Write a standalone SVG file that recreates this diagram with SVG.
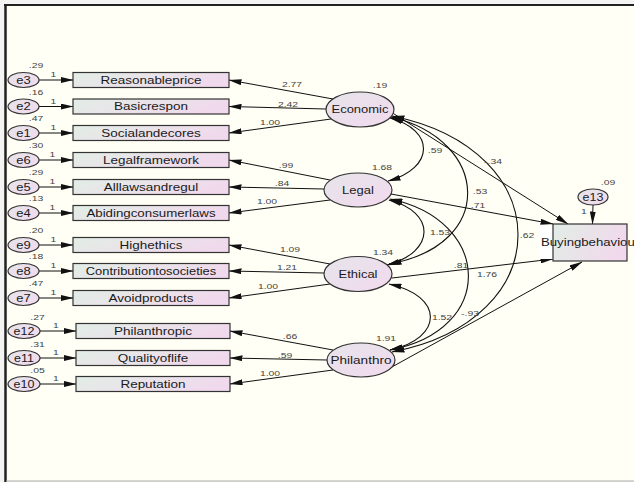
<svg xmlns="http://www.w3.org/2000/svg" width="634" height="482" viewBox="0 0 634 482">
<defs>
<linearGradient id="gBox" x1="0" y1="0" x2="1" y2="0.3">
<stop offset="0" stop-color="#E2EEE6"/>
<stop offset="1" stop-color="#F0D9EC"/>
</linearGradient>
<linearGradient id="gEll" x1="0" y1="0" x2="1" y2="1">
<stop offset="0" stop-color="#E6E4EA"/>
<stop offset="1" stop-color="#F2DAEE"/>
</linearGradient>
<marker id="ah" markerUnits="userSpaceOnUse" markerWidth="13" markerHeight="6" refX="12.5" refY="3" orient="auto-start-reverse">
<path d="M0,0 L13,3 L0,6 z" fill="#111"/>
</marker>
<style>
.box{fill:url(#gBox);stroke:#333;stroke-width:1.2}
.ell{fill:url(#gEll);stroke:#333;stroke-width:1.2}
.lbl{font-family:"Liberation Sans",Arial,sans-serif;font-size:10px;fill:#1a1a1a;text-anchor:middle}
.num{font-family:"Liberation Sans",Arial,sans-serif;font-size:8px;fill:#444;text-anchor:middle}
.ln{fill:none;stroke:#111;stroke-width:1;marker-end:url(#ah)}
.cv{fill:none;stroke:#111;stroke-width:1.1;marker-end:url(#ah);marker-start:url(#ah)}
</style>
</defs>
<rect x="0" y="0" width="634" height="482" fill="#F4F4F2"/>
<rect x="6" y="6" width="628" height="475" fill="#FFFFF5"/>
<line x1="4" y1="5" x2="634" y2="5" stroke="#222" stroke-width="2"/>
<line x1="5.5" y1="4" x2="5.5" y2="482" stroke="#222" stroke-width="2.5"/>
<line x1="6" y1="481" x2="634" y2="481" stroke="#AAA" stroke-width="1"/>

<g id="connectors">
<line class="ln" x1="39" y1="80" x2="73" y2="80"/>
<line class="ln" x1="39" y1="106.5" x2="73" y2="106.5"/>
<line class="ln" x1="39" y1="133" x2="73" y2="133"/>
<line class="ln" x1="39" y1="160" x2="73" y2="160"/>
<line class="ln" x1="39" y1="187" x2="73" y2="187"/>
<line class="ln" x1="39" y1="213" x2="73" y2="213"/>
<line class="ln" x1="39" y1="245" x2="73" y2="245"/>
<line class="ln" x1="39" y1="271" x2="73" y2="271"/>
<line class="ln" x1="39" y1="298" x2="73" y2="298"/>
<line class="ln" x1="40" y1="331" x2="76" y2="331"/>
<line class="ln" x1="40" y1="358" x2="76" y2="358"/>
<line class="ln" x1="40" y1="384" x2="76" y2="384"/>
<line class="ln" x1="593" y1="205" x2="592.5" y2="224"/>
<line class="ln" x1="333" y1="99" x2="229" y2="80"/>
<line class="ln" x1="326" y1="109" x2="229" y2="106.5"/>
<line class="ln" x1="331" y1="119" x2="229" y2="133"/>
<line class="ln" x1="330" y1="180" x2="229" y2="160"/>
<line class="ln" x1="324" y1="189" x2="229" y2="187"/>
<line class="ln" x1="330" y1="200" x2="229" y2="213"/>
<line class="ln" x1="330" y1="264" x2="229" y2="245"/>
<line class="ln" x1="324" y1="273" x2="229" y2="271"/>
<line class="ln" x1="330" y1="284" x2="229" y2="298"/>
<line class="ln" x1="333" y1="350" x2="230" y2="331"/>
<line class="ln" x1="327" y1="360" x2="230" y2="358"/>
<line class="ln" x1="333" y1="370" x2="230" y2="384"/>
<line class="ln" x1="391" y1="112" x2="568" y2="224"/>
<line class="ln" x1="391" y1="194" x2="553" y2="224"/>
<line class="ln" x1="392" y1="278" x2="553" y2="259"/>
<line class="ln" x1="390" y1="368" x2="582" y2="262"/>
<path class="cv" d="M390 118 C435 130 435 168 388 181"/>
<path class="cv" d="M389 200 C436 212 436 252 387 265"/>
<path class="cv" d="M389 284 C444 296 444 338 390 350"/>
<path class="cv" d="M391 117 C490 140 497 245 389 264"/>
<path class="cv" d="M390 199 C492 220 497 330 390 350"/>
<path class="cv" d="M392 116 C560 150 560 320 392 352"/>
</g>

<g id="labels-paths">
<text class="num" transform="translate(292 87) scale(1.3 1)">2.77</text>
<text class="num" transform="translate(288 107) scale(1.3 1)">2.42</text>
<text class="num" transform="translate(270 125) scale(1.3 1)">1.00</text>
<text class="num" transform="translate(286 168) scale(1.3 1)">.99</text>
<text class="num" transform="translate(282 186) scale(1.3 1)">.84</text>
<text class="num" transform="translate(267 204) scale(1.3 1)">1.00</text>
<text class="num" transform="translate(290 252) scale(1.3 1)">1.09</text>
<text class="num" transform="translate(287 270) scale(1.3 1)">1.21</text>
<text class="num" transform="translate(268 289) scale(1.3 1)">1.00</text>
<text class="num" transform="translate(290 339) scale(1.3 1)">.66</text>
<text class="num" transform="translate(285 358) scale(1.3 1)">.59</text>
<text class="num" transform="translate(270 376) scale(1.3 1)">1.00</text>
<text class="num" transform="translate(435 153) scale(1.3 1)">.59</text>
<text class="num" transform="translate(440 235) scale(1.3 1)">1.53</text>
<text class="num" transform="translate(442 320) scale(1.3 1)">1.52</text>
<text class="num" transform="translate(480 194) scale(1.3 1)">.53</text>
<text class="num" transform="translate(470 316) scale(1.3 1)">-.93</text>
<text class="num" transform="translate(527 238) scale(1.3 1)">.62</text>
<text class="num" transform="translate(493 164) scale(1.3 1)">-.34</text>
<text class="num" transform="translate(478 208) scale(1.3 1)">.71</text>
<text class="num" transform="translate(461 268) scale(1.3 1)">.81</text>
<text class="num" transform="translate(487 277) scale(1.3 1)">1.76</text>
</g>

<g id="e3"><ellipse class="ell" cx="23.5" cy="80" rx="15.5" ry="7.5"/><text class="lbl" transform="translate(23.5 83.5) scale(1.3 1)">e3</text><text class="num" transform="translate(36 68) scale(1.3 1)">.29</text><text class="num" transform="translate(53.5 77) scale(1.3 1)">1</text></g>
<g id="e2"><ellipse class="ell" cx="23.5" cy="106.5" rx="15.5" ry="7.5"/><text class="lbl" transform="translate(23.5 110) scale(1.3 1)">e2</text><text class="num" transform="translate(36 95) scale(1.3 1)">.16</text><text class="num" transform="translate(53.5 103.5) scale(1.3 1)">1</text></g>
<g id="e1"><ellipse class="ell" cx="23.5" cy="133" rx="15.5" ry="7.5"/><text class="lbl" transform="translate(23.5 136.5) scale(1.3 1)">e1</text><text class="num" transform="translate(36 121) scale(1.3 1)">.47</text><text class="num" transform="translate(53.5 130) scale(1.3 1)">1</text></g>
<g id="e6"><ellipse class="ell" cx="23.5" cy="160" rx="15.5" ry="7.5"/><text class="lbl" transform="translate(23.5 163.5) scale(1.3 1)">e6</text><text class="num" transform="translate(36 148) scale(1.3 1)">.30</text><text class="num" transform="translate(52.5 157) scale(1.3 1)">1</text></g>
<g id="e5"><ellipse class="ell" cx="23.5" cy="187" rx="15.5" ry="7.5"/><text class="lbl" transform="translate(23.5 190.5) scale(1.3 1)">e5</text><text class="num" transform="translate(36 175) scale(1.3 1)">.29</text><text class="num" transform="translate(52.5 184) scale(1.3 1)">1</text></g>
<g id="e4"><ellipse class="ell" cx="23.5" cy="213" rx="15.5" ry="7.5"/><text class="lbl" transform="translate(23.5 216.5) scale(1.3 1)">e4</text><text class="num" transform="translate(36 201) scale(1.3 1)">.13</text><text class="num" transform="translate(52.5 210) scale(1.3 1)">1</text></g>
<g id="e9"><ellipse class="ell" cx="23.5" cy="245" rx="15.5" ry="7.5"/><text class="lbl" transform="translate(23.5 248.5) scale(1.3 1)">e9</text><text class="num" transform="translate(36 233) scale(1.3 1)">.20</text><text class="num" transform="translate(53.5 242) scale(1.3 1)">1</text></g>
<g id="e8"><ellipse class="ell" cx="23.5" cy="271" rx="15.5" ry="7.5"/><text class="lbl" transform="translate(23.5 274.5) scale(1.3 1)">e8</text><text class="num" transform="translate(36 259) scale(1.3 1)">.18</text><text class="num" transform="translate(53.5 268) scale(1.3 1)">1</text></g>
<g id="e7"><ellipse class="ell" cx="23.5" cy="298" rx="15.5" ry="7.5"/><text class="lbl" transform="translate(23.5 301.5) scale(1.3 1)">e7</text><text class="num" transform="translate(36 286) scale(1.3 1)">.47</text><text class="num" transform="translate(53.5 295) scale(1.3 1)">1</text></g>
<g id="e12"><ellipse class="ell" cx="24" cy="331" rx="16" ry="7.5"/><text class="lbl" transform="translate(24 334.5) scale(1.25 1)">e12</text><text class="num" transform="translate(37.5 320) scale(1.3 1)">.27</text><text class="num" transform="translate(56 328) scale(1.3 1)">1</text></g>
<g id="e11"><ellipse class="ell" cx="24" cy="358" rx="16" ry="7.5"/><text class="lbl" transform="translate(24 361.5) scale(1.25 1)">e11</text><text class="num" transform="translate(37.5 347) scale(1.3 1)">.31</text><text class="num" transform="translate(56 355) scale(1.3 1)">1</text></g>
<g id="e10"><ellipse class="ell" cx="24" cy="384" rx="16" ry="7.5"/><text class="lbl" transform="translate(24 387.5) scale(1.25 1)">e10</text><text class="num" transform="translate(37.5 373) scale(1.3 1)">.05</text><text class="num" transform="translate(56 381) scale(1.3 1)">1</text></g>

<g id="Reasonableprice"><rect class="box" x="73" y="72.5" width="156" height="15"/><text class="lbl" transform="translate(151 83.5) scale(1.35 1)">Reasonableprice</text></g>
<g id="Basicrespon"><rect class="box" x="73" y="99" width="156" height="15"/><text class="lbl" transform="translate(151 110) scale(1.35 1)">Basicrespon</text></g>
<g id="Socialandecores"><rect class="box" x="73" y="125.5" width="156" height="15"/><text class="lbl" transform="translate(151 136.5) scale(1.35 1)">Socialandecores</text></g>
<g id="Legalframework"><rect class="box" x="73" y="152.5" width="156" height="15"/><text class="lbl" transform="translate(151 163.5) scale(1.35 1)">Legalframework</text></g>
<g id="Alllawsandregul"><rect class="box" x="73" y="179.5" width="156" height="15"/><text class="lbl" transform="translate(151 190.5) scale(1.35 1)">Alllawsandregul</text></g>
<g id="Abidingconsumerlaws"><rect class="box" x="73" y="205.5" width="156" height="15"/><text class="lbl" transform="translate(151 216.5) scale(1.33 1)">Abidingconsumerlaws</text></g>
<g id="Highethics"><rect class="box" x="73" y="237.5" width="156" height="15"/><text class="lbl" transform="translate(151 248.5) scale(1.35 1)">Highethics</text></g>
<g id="Contributiontosocieties"><rect class="box" x="73" y="263.5" width="156" height="15"/><text class="lbl" transform="translate(151 274.5) scale(1.29 1)">Contributiontosocieties</text></g>
<g id="Avoidproducts"><rect class="box" x="73" y="290.5" width="156" height="15"/><text class="lbl" transform="translate(151 301.5) scale(1.35 1)">Avoidproducts</text></g>
<g id="Philanthropic"><rect class="box" x="76" y="323.5" width="154" height="15"/><text class="lbl" transform="translate(153 334.5) scale(1.35 1)">Philanthropic</text></g>
<g id="Qualityoflife"><rect class="box" x="76" y="350.5" width="154" height="15"/><text class="lbl" transform="translate(153 361.5) scale(1.35 1)">Qualityoflife</text></g>
<g id="Reputation"><rect class="box" x="76" y="376.5" width="154" height="15"/><text class="lbl" transform="translate(153 387.5) scale(1.35 1)">Reputation</text></g>

<g id="Economic"><ellipse class="ell" cx="360" cy="109.5" rx="34" ry="17.5"/><text class="lbl" transform="translate(360 113) scale(1.3 1)">Economic</text><text class="num" transform="translate(380 88) scale(1.3 1)">.19</text></g>
<g id="Legal"><ellipse class="ell" cx="358" cy="190" rx="34" ry="17"/><text class="lbl" transform="translate(358 193.5) scale(1.3 1)">Legal</text><text class="num" transform="translate(382 169.5) scale(1.3 1)">1.68</text></g>
<g id="Ethical"><ellipse class="ell" cx="358" cy="274" rx="34" ry="17.5"/><text class="lbl" transform="translate(358 277.5) scale(1.3 1)">Ethical</text><text class="num" transform="translate(383 254.5) scale(1.3 1)">1.34</text></g>
<g id="Philanthro"><ellipse class="ell" cx="361" cy="360" rx="34" ry="17"/><text class="lbl" transform="translate(361 363.5) scale(1.36 1)">Philanthro</text><text class="num" transform="translate(386 341) scale(1.3 1)">1.91</text></g>

<g id="e13"><ellipse class="ell" cx="593" cy="197" rx="15" ry="8"/><text class="lbl" transform="translate(593 200.5) scale(1.25 1)">e13</text><text class="num" transform="translate(608 185) scale(1.3 1)">.09</text><text class="num" transform="translate(584 214) scale(1.3 1)">1</text></g>
<g id="Buyingbehaviour"><rect x="539" y="225.5" width="14" height="33.5" fill="#FFFFFF"/><rect class="box" x="553" y="224" width="74" height="37"/><text class="lbl" style="text-anchor:start" transform="translate(541 246) scale(1.32 1)">Buyingbehaviour</text></g>
</svg>
